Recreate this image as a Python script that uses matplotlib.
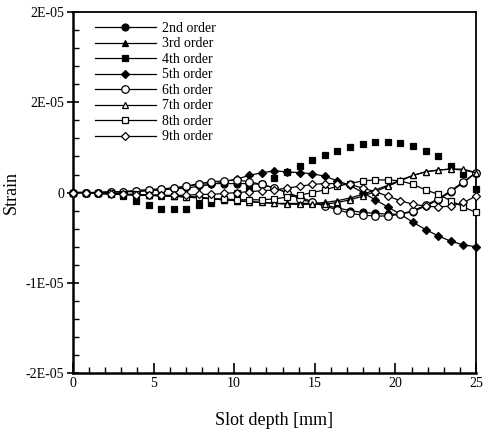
import numpy as np
import matplotlib.pyplot as plt
from matplotlib.lines import Line2D
from matplotlib.ticker import MultipleLocator, FixedLocator

plt.rcParams['font.family'] = ['Liberation Serif', 'DejaVu Serif']

# slot depth [mm], 33 points from 0 to 25
depth = np.linspace(0, 25, 33)

# strain values in units of 1E-05
order2 = [0, 0, 0, 0.01, 0.01, 0.02, 0.03, 0.04, 0.05, 0.07, 0.09, 0.10, 0.10, 0.10, 0.10, 0.09, 0.05,
          0.0, -0.05, -0.10, -0.14, -0.17, -0.20, -0.22, -0.23, -0.24, -0.24, -0.21, -0.15, -0.08, 0.01, 0.11, 0.22]
order3 = [0, 0, -0.01, -0.01, -0.02, -0.03, -0.03, -0.04, -0.04, -0.05, -0.06, -0.07, -0.08, -0.09, -0.10, -0.11, -0.12,
          -0.12, -0.12, -0.12, -0.11, -0.09, -0.06, -0.02, 0.03, 0.08, 0.14, 0.19, 0.23, 0.25, 0.26, 0.25, 0.22]
order4 = [0, 0, -0.01, -0.02, -0.04, -0.09, -0.14, -0.18, -0.18, -0.18, -0.14, -0.12, -0.07, -0.01, 0.03, 0.09, 0.16,
          0.23, 0.30, 0.36, 0.42, 0.46, 0.51, 0.54, 0.56, 0.56, 0.55, 0.52, 0.46, 0.40, 0.30, 0.21, 0.04]
order5 = [0, 0, 0, 0, 0.01, 0.01, 0.02, 0.03, 0.04, 0.05, 0.07, 0.09, 0.12, 0.15, 0.19, 0.22, 0.24,
          0.23, 0.22, 0.21, 0.18, 0.13, 0.08, 0, -0.08, -0.16, -0.24, -0.33, -0.41, -0.48, -0.54, -0.58, -0.60]
order6 = [0, 0, 0, 0.01, 0.01, 0.02, 0.03, 0.04, 0.05, 0.07, 0.10, 0.12, 0.13, 0.14, 0.12, 0.09, 0.05,
          0, -0.07, -0.11, -0.15, -0.19, -0.23, -0.25, -0.26, -0.26, -0.24, -0.20, -0.14, -0.07, 0.02, 0.12, 0.22]
order7 = [0, 0, -0.01, -0.01, -0.02, -0.02, -0.03, -0.03, -0.04, -0.04, -0.05, -0.07, -0.08, -0.09, -0.10, -0.11, -0.12,
          -0.13, -0.13, -0.13, -0.13, -0.11, -0.08, -0.04, 0.01, 0.07, 0.13, 0.19, 0.23, 0.25, 0.26, 0.26, 0.22]
order8 = [0, 0, -0.01, -0.01, -0.02, -0.02, -0.03, -0.03, -0.04, -0.05, -0.05, -0.07, -0.07, -0.08, -0.08, -0.08, -0.07,
          -0.05, -0.03, 0, 0.03, 0.07, 0.10, 0.13, 0.14, 0.14, 0.13, 0.09, 0.03, -0.02, -0.09, -0.16, -0.22]
order9 = [0, 0, -0.01, -0.02, -0.02, -0.03, -0.03, -0.03, -0.03, -0.03, -0.02, -0.02, -0.01, 0, 0.01, 0.02, 0.03,
          0.05, 0.07, 0.09, 0.10, 0.10, 0.09, 0.05, 0.01, -0.04, -0.09, -0.13, -0.15, -0.16, -0.15, -0.11, -0.04]

labels = ["2nd order", "3rd order", "4th order", "5th order",
          "6th order", "7th order", "8th order", "9th order"]
series = [order2, order3, order4, order5, order6, order7, order8, order9]

ytick_vals = [-2e-5, -1e-5, 0, 1e-5, 2e-5]
ytick_labels = ["-2E-05", "-1E-05", "0", "2E-05", "2E-05"]

# marker, facecolor, size, draw line
styles = [("o", "black", 5.0, True),
          ("^", "black", 4.0, True),
          ("s", "black", 4.5, False),
          ("D", "black", 3.6, True),
          ("o", "white", 5.4, True),
          ("^", "white", 4.8, True),
          ("s", "white", 4.4, True),
          ("D", "white", 4.2, True)]

fig = plt.figure(figsize=(4.83, 4.34), dpi=100)
ax = fig.add_axes([0.151, 0.1406, 0.8345, 0.8314])

handles = []
for vals, lab, (m, fc, ms, line) in zip(series, labels, styles):
    y = np.array(vals) * 1e-5
    ax.plot(depth, y, color="black", linestyle="-" if line else "none", linewidth=0.9,
            marker=m, markerfacecolor=fc, markeredgecolor="black", markersize=ms,
            markeredgewidth=0.9, clip_on=False, zorder=3)
    handles.append(Line2D([], [], color="black", linewidth=0.9, marker=m, markerfacecolor=fc,
                          markeredgecolor="black", markersize=ms, markeredgewidth=0.9))

ax.set_xlim(0, 25)
ax.set_ylim(-2e-5, 2e-5)
ax.xaxis.set_major_locator(MultipleLocator(5))
ax.xaxis.set_minor_locator(MultipleLocator(1))
ax.yaxis.set_major_locator(FixedLocator(ytick_vals))
ax.yaxis.set_minor_locator(MultipleLocator(0.2e-5))
ax.set_yticklabels(ytick_labels)

ax.tick_params(axis="x", which="major", direction="in", length=7, width=1.2, labelsize=10, pad=3)
ax.tick_params(axis="x", which="minor", direction="in", length=4, width=1.0)
ax.tick_params(axis="y", which="major", direction="inout", length=9, width=1.2, labelsize=10, pad=2)
ax.tick_params(axis="y", which="minor", direction="in", length=4, width=1.0)

for s in ["left", "bottom"]:
    ax.spines[s].set_linewidth(1.8)
for s in ["right", "top"]:
    ax.spines[s].set_linewidth(1.3)

ax.set_xlabel("Slot depth [mm]", fontsize=13, labelpad=16)
ax.set_ylabel("Strain", fontsize=13, labelpad=4)

ax.legend(handles, labels, loc="upper left", frameon=False, fontsize=10,
          handlelength=4.4, labelspacing=0.18, handletextpad=0.45,
          bbox_to_anchor=(0.03, 1.0), borderaxespad=0.3)

fig.savefig("out.png", dpi=100)
